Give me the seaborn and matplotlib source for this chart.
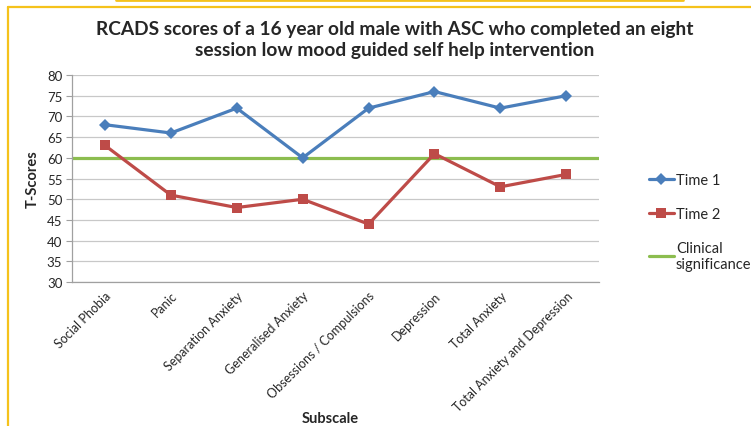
import numpy as np
import pandas as pd
import matplotlib
matplotlib.use("Agg")
import matplotlib.pyplot as plt
import matplotlib.transforms as mtrans
import seaborn as sb
from matplotlib.lines import Line2D

subscales = ['Social Phobia', 'Panic', 'Separation Anxiety', 'Generalised Anxiety',
             'Obsessions / Compulsions', 'Depression', 'Total Anxiety',
             'Total Anxiety and Depression']
time1 = [68, 66, 72, 60, 72, 76, 72, 75]
time2 = [63, 51, 48, 50, 44, 61, 53, 56]
clinical = 60

sb.set_style("white")
plt.rcParams['font.family'] = ['Lato', 'DejaVu Sans']

df = pd.DataFrame({'x': range(len(subscales)), 'Subscale': subscales,
                   'Time 1': time1, 'Time 2': time2})

fig = plt.figure(figsize=(7.51, 4.27), dpi=100)
ax = fig.add_axes([0.0959, 0.337, 0.702, 0.485])

for y in np.arange(30, 85, 5):
    ax.axhline(y, color='#c8c8c8', lw=0.9, zorder=0)

blue, red, green = '#4a7ebb', '#be4b48', '#8cbd4f'
ax.axhline(clinical, color=green, lw=2.3, zorder=1)
sb.lineplot(data=df, x='x', y='Time 2', color=red, lw=2.3, marker='s',
            markersize=7, markeredgewidth=0, ax=ax, zorder=3)
sb.lineplot(data=df, x='x', y='Time 1', color=blue, lw=2.3, marker='D',
            markersize=6, markeredgewidth=0, ax=ax, zorder=3)

ax.set_xlim(-0.5, 7.5)
ax.set_ylim(30, 80)
ax.set_yticks(np.arange(30, 85, 5))
ax.set_xticks(range(len(subscales)))
ax.set_xticklabels(subscales, rotation=45, ha='right', rotation_mode='anchor', fontsize=9)
shift = mtrans.ScaledTranslation(-5 / 100, 0, fig.dpi_scale_trans)
for lbl in ax.get_xticklabels():
    lbl.set_transform(lbl.get_transform() + shift)
ax.tick_params(axis='y', labelsize=9.5, length=4, color='#a0a0a0', left=True, pad=3)
ax.tick_params(axis='x', length=0, pad=5)
for s in ['top', 'right']:
    ax.spines[s].set_visible(False)
for s in ['left', 'bottom']:
    ax.spines[s].set_color('#a0a0a0')
    ax.spines[s].set_linewidth(0.9)

ax.set_xlabel('')
fig.text(330 / 751, 1 - 419 / 427, 'Subscale', fontsize=10.5, fontweight='bold',
         ha='center', va='center')
ax.set_ylabel('T-Scores', fontsize=10.5, fontweight='bold', labelpad=5)

fig.text(395 / 751, 1 - 40 / 427,
         'RCADS scores of a 16 year old male with ASC who completed an eight\nsession low mood guided self help intervention',
         ha='center', va='center', fontsize=13.8, fontweight='bold', linespacing=1.3)

handles = [Line2D([], [], color=blue, marker='D', lw=2.3, markersize=6, markeredgewidth=0),
           Line2D([], [], color=red, marker='s', lw=2.3, markersize=7, markeredgewidth=0),
           Line2D([], [], color=green, lw=2.3)]
fig.legend(handles, ['Time 1', 'Time 2', 'Clinical\nsignificance'],
           loc='center left', bbox_to_anchor=(643 / 751, 1 - 223 / 427),
           frameon=False, fontsize=10.5, handlelength=1.7, handletextpad=0.15,
           labelspacing=1.35, borderaxespad=0)

# frame decoration
gold = '#f5c21b'
fig.add_artist(Line2D([8 / 751, 8 / 751], [0, 1 - 8 / 427], color=gold, lw=1.6,
                      transform=fig.transFigure))
fig.add_artist(Line2D([8 / 751, 1], [1 - 8 / 427, 1 - 8 / 427], color=gold, lw=1.6,
                      transform=fig.transFigure))
fig.add_artist(Line2D([116 / 751, 683 / 751], [1 - 1 / 427, 1 - 1 / 427], color=gold, lw=2,
                      transform=fig.transFigure))

fig.savefig('out.png', dpi=100)
